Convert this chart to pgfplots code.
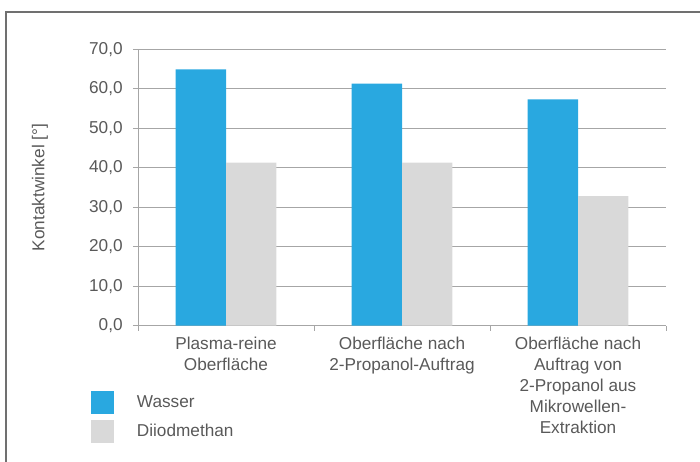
\documentclass[border=0pt]{standalone}
\usepackage{pgfplots}
\pgfplotsset{compat=1.18}
\usepackage{fontspec}
\setmainfont{Liberation Sans}
\definecolor{wasser}{HTML}{29A8E0}
\definecolor{diiod}{HTML}{D9D9D9}
\definecolor{txt}{HTML}{595959}
\definecolor{gridc}{HTML}{A6A6A6}
\definecolor{framec}{HTML}{707070}

\begin{document}
\begin{tikzpicture}
\useasboundingbox (0,0) rectangle (525pt,345.75pt);
% outer frame (runs off the right and bottom edge)
\draw[framec, line width=1.2pt] (4.5pt,-20pt) rectangle (560pt,336.75pt);
\begin{axis}[
    at={(103.5pt,101.5pt)}, anchor=south west,
    scale only axis, width=396pt, height=207.3pt,
    ybar=0pt, bar width=37.7pt,
    xmin=-0.5, xmax=2.5, ymin=0, ymax=70, ytick distance=10,
    axis x line=bottom, axis y line=left,
    axis line style={gridc, line width=0.75pt, -},
    ymajorgrids, grid style={gridc, line width=0.75pt},
    major tick style={gridc, line width=0.75pt},
    tick align=outside, major tick length=3.75pt,
    xtick={-0.5,0.5,1.5,2.5}, xticklabels={},
    extra x ticks={0,1,2},
    extra x tick labels={{Plasma-reine\\Oberfläche},{Oberfläche nach\\2-Propanol-Auftrag},{Oberfläche nach\\Auftrag von\\2-Propanol aus\\Mikrowellen-\\Extraktion}},
    extra x tick style={major tick length=0pt, grid=none},
    tick label style={txt, font=\fontsize{12.9}{15.75}\selectfont},
    xticklabel style={align=center, yshift=-5.25pt},
    yticklabel style={xshift=-4.25pt},
    /pgf/number format/.cd, fixed, fixed zerofill, precision=1, use comma, assume math mode=true,
    /pgfplots/.cd,
    ylabel={Kontaktwinkel [°]},
    every axis y label/.style={at={(rel axis cs:0,0.5)}, xshift=-73.5pt, rotate=90, anchor=center, txt, font=\fontsize{12.9}{15}\selectfont},
    legend style={draw=none, fill=none, at={(rel axis cs:0,0)}, anchor=north west,
        xshift=-35.25pt, yshift=-49pt, inner sep=0pt, row sep=4.5pt,
        text=txt, font=\fontsize{12.9}{15}\selectfont,
        /tikz/every odd column/.append style={column sep=15pt}},
    legend cell align=left,
    legend image code/.code={\draw[#1, draw=none] (0pt,-8.6pt) rectangle (17.25pt,8.6pt);},
]
\addplot[fill=wasser, draw=none] coordinates {(0,64.9) (1,61.3) (2,57.3)};
\addplot[fill=diiod, draw=none] coordinates {(0,41.3) (1,41.3) (2,32.8)};
\legend{Wasser, Diiodmethan}
\end{axis}
\end{tikzpicture}
\end{document}
